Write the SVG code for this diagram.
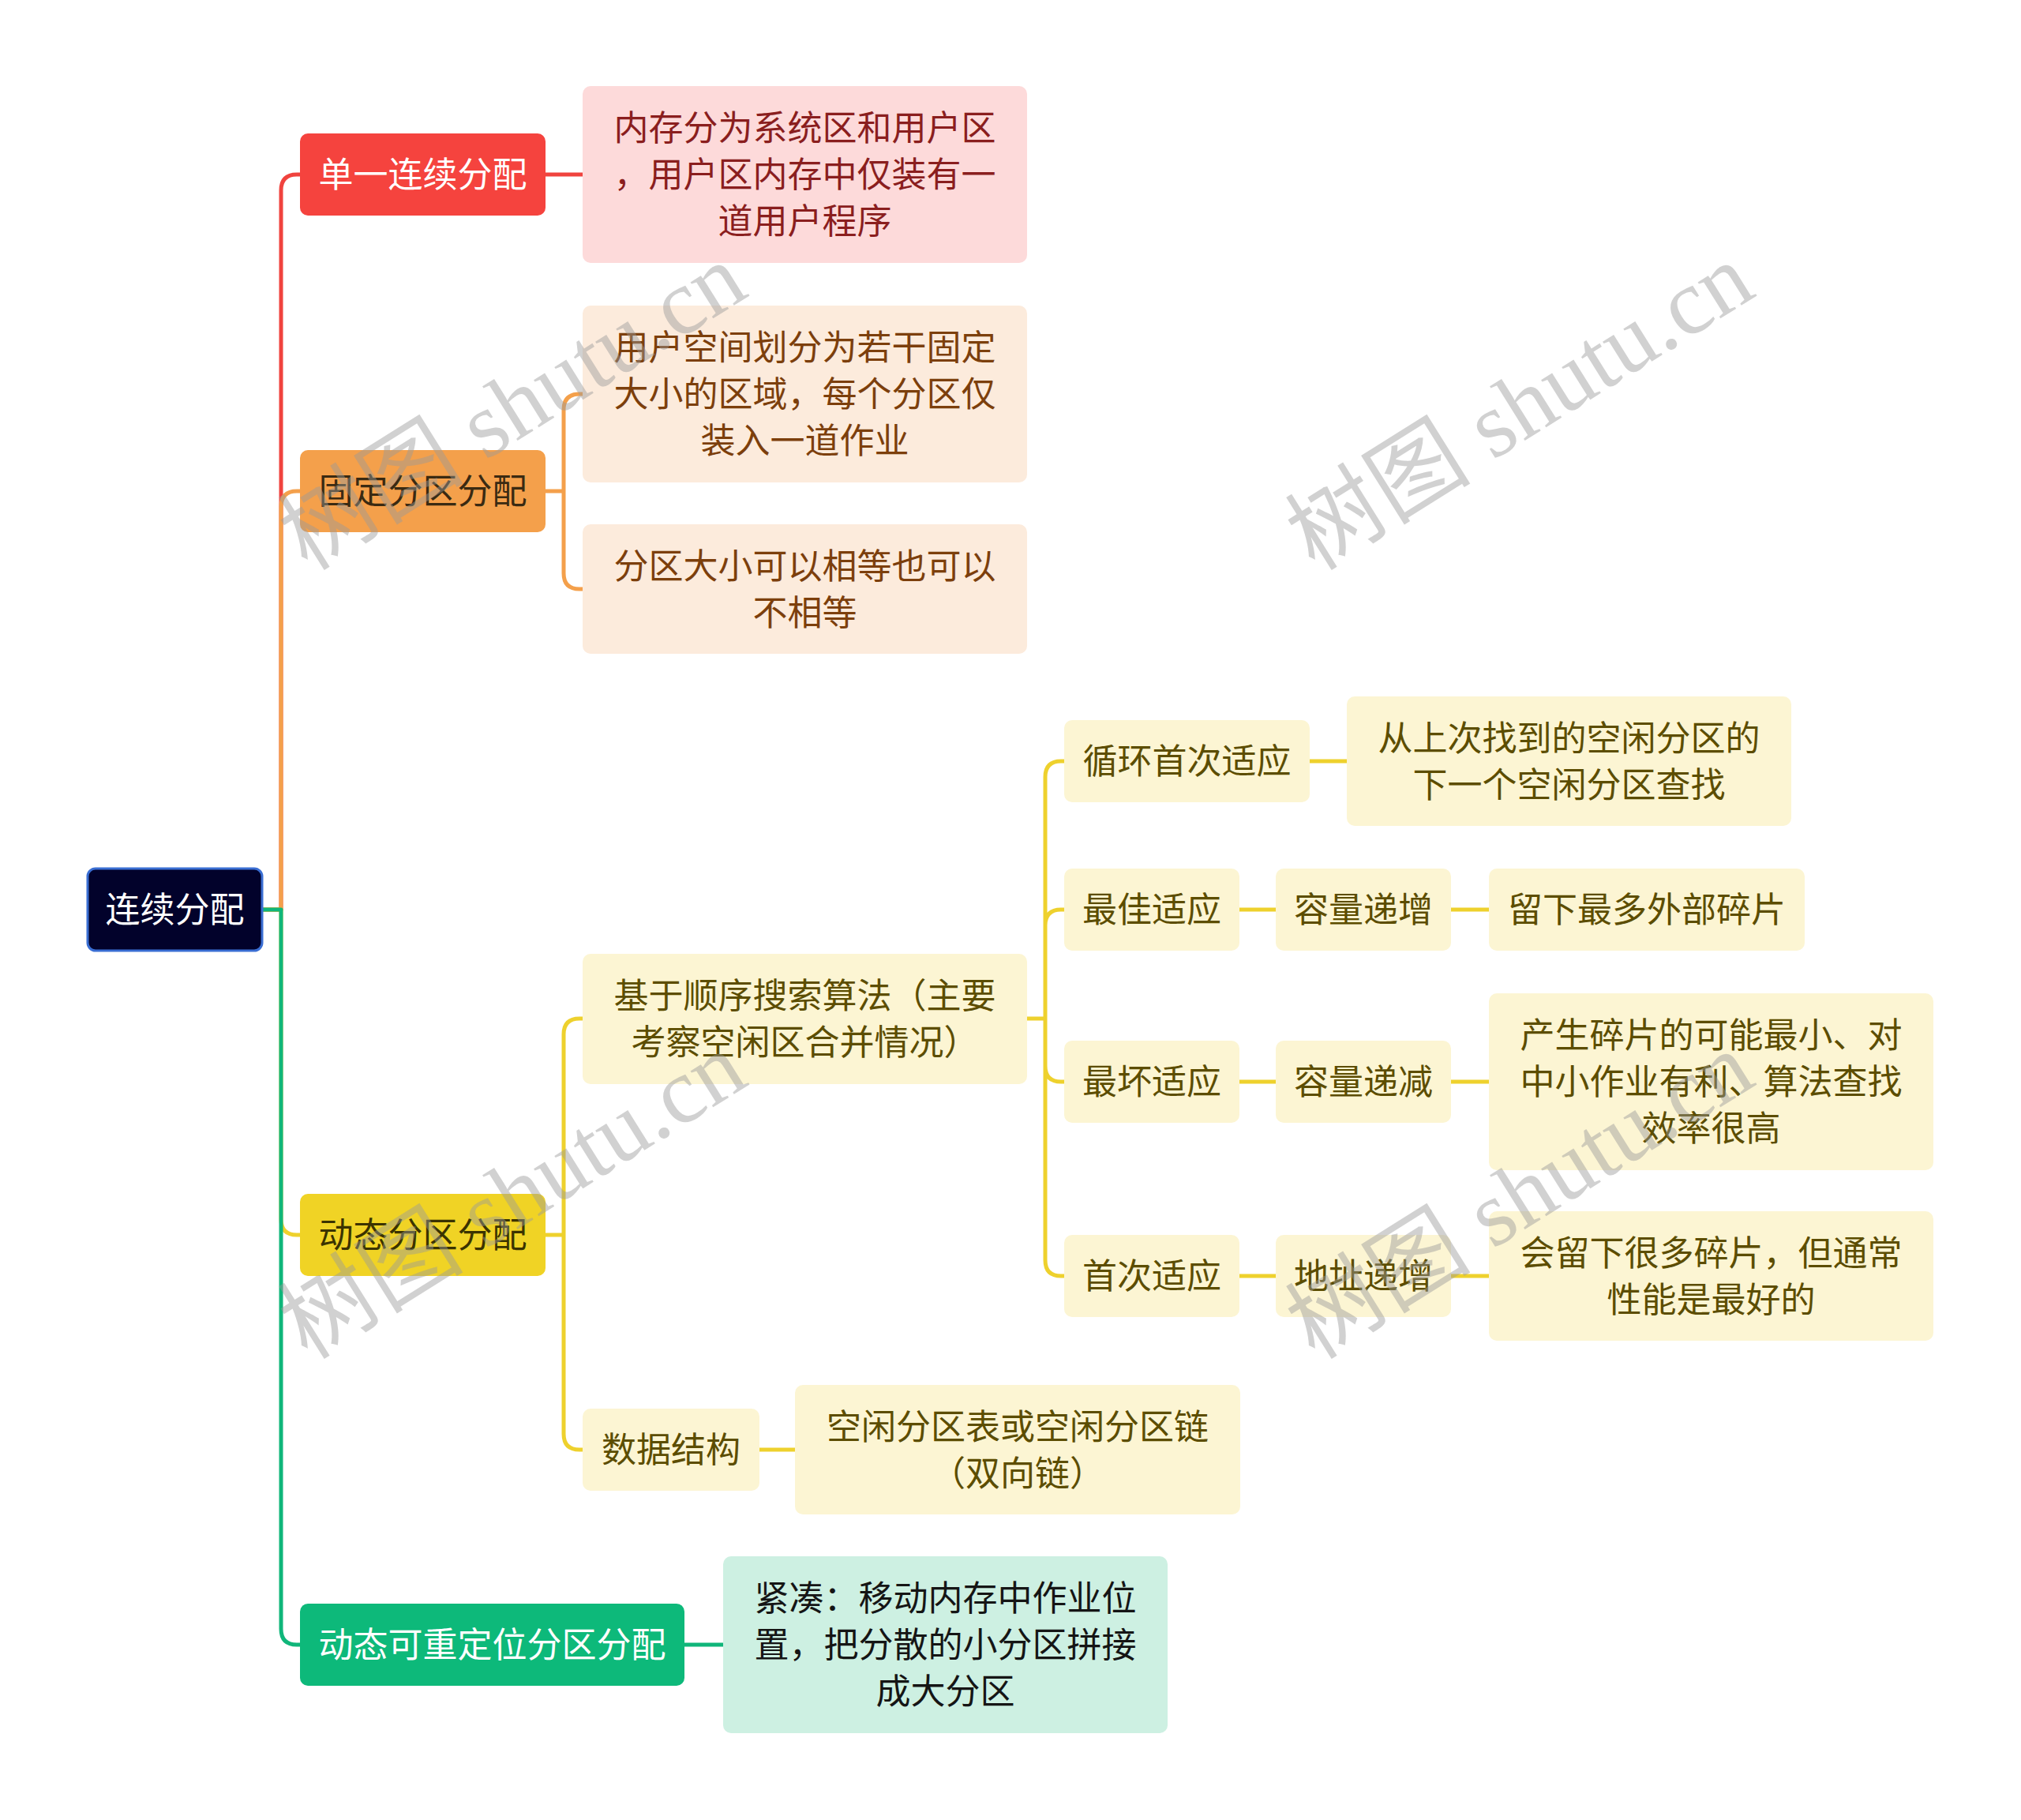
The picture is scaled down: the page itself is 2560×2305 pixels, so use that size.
<svg xmlns="http://www.w3.org/2000/svg" width="2560" height="2305" viewBox="0 0 2560 2305">
<style>
text{font-family:'Noto Sans CJK SC','Noto Sans',sans-serif;font-size:44px;text-anchor:middle}
.lnk{fill:none;stroke-width:5;stroke-linecap:round;stroke-linejoin:round}
.r{stroke:#F0433E}.o{stroke:#F4A04B}.y{stroke:#EED12D}.g{stroke:#10B67A}
.wm{font-family:'Liberation Serif','Noto Sans CJK SC',serif;font-size:118px;fill:#9a9a9a;fill-opacity:0.45}
.t1w{fill:#ffffff}
.tpink{fill:#8A1E1E}.tpeach{fill:#7C3F0C}.tcream{fill:#5C4D00}.tmint{fill:#151515}
</style>
<rect width="2560" height="2305" fill="#ffffff"/>
<g id="connectors">
<path class="lnk r" d="M332 1152 H356 V241 Q356 221 376 221 H380"/>
<path class="lnk o" d="M332 1152 H356 V642 Q356 622 376 622 H380"/>
<path class="lnk y" d="M332 1152 H356 V1544 Q356 1564 376 1564 H380"/>
<path class="lnk g" d="M332 1152 H356 V2063 Q356 2083 376 2083 H380"/>
<path class="lnk r" d="M691 221 H738"/>
<path class="lnk o" d="M691 622 H714 V519 Q714 499 734 499 H738 M714 622 V726 Q714 746 734 746 H738"/>
<path class="lnk y" d="M691 1564 H714 V1310 Q714 1290 734 1290 H738 M714 1564 V1816 Q714 1836 734 1836 H738"/>
<path class="lnk g" d="M867 2083 H916"/>
<path class="lnk y" d="M962 1836 H1007"/>
<path class="lnk y" d="M1301 1290 H1324 V984 Q1324 964 1344 964 H1348 M1324 1290 V1172 Q1324 1152 1344 1152 H1348 M1324 1290 V1350 Q1324 1370 1344 1370 H1348 M1324 1290 V1596 Q1324 1616 1344 1616 H1348"/>
<path class="lnk y" d="M1659 964 H1706 M1570 1152 H1616 M1838 1152 H1886 M1570 1370 H1616 M1838 1370 H1886 M1570 1616 H1616 M1838 1616 H1886"/>
</g>
<g id="root">
<rect x="111" y="1100" width="221" height="104" rx="10" fill="#02022B" stroke="#3A6ED3" stroke-width="3"/>
<text class="t1w" x="221.5" y="1168">连续分配</text>
</g>
<g id="n-single">
<rect x="380" y="169" width="311" height="104" rx="10" fill="#F5433E"/>
<text class="t1w" x="535.5" y="237">单一连续分配</text>
</g>
<g id="n-single-desc">
<rect x="738" y="109" width="563" height="224" rx="10" fill="#FDDADA"/>
<text class="tpink" x="1019.5" y="178">内存分为系统区和用户区</text>
<text class="tpink" x="1019.5" y="237">，用户区内存中仅装有一</text>
<text class="tpink" x="1019.5" y="296">道用户程序</text>
</g>
<g id="n-fixed">
<rect x="380" y="570" width="311" height="104" rx="10" fill="#F4A04B"/>
<text fill="#3A2A12" x="535.5" y="638">固定分区分配</text>
</g>
<g id="n-fixed-1">
<rect x="738" y="387" width="563" height="224" rx="10" fill="#FCEBDC"/>
<text class="tpeach" x="1019.5" y="456">用户空间划分为若干固定</text>
<text class="tpeach" x="1019.5" y="515">大小的区域，每个分区仅</text>
<text class="tpeach" x="1019.5" y="574">装入一道作业</text>
</g>
<g id="n-fixed-2">
<rect x="738" y="664" width="563" height="164" rx="10" fill="#FCEBDC"/>
<text class="tpeach" x="1019.5" y="733">分区大小可以相等也可以</text>
<text class="tpeach" x="1019.5" y="792">不相等</text>
</g>
<g id="n-dynamic">
<rect x="380" y="1512" width="311" height="104" rx="10" fill="#F0D325"/>
<text fill="#3B3300" x="535.5" y="1580">动态分区分配</text>
</g>
<g id="n-seq">
<rect x="738" y="1208" width="563" height="165" rx="10" fill="#FCF5D3"/>
<text class="tcream" x="1019.5" y="1277">基于顺序搜索算法（主要</text>
<text class="tcream" x="1019.5" y="1336">考察空闲区合并情况）</text>
</g>
<g id="n-next-fit">
<rect x="1348" y="912" width="311" height="104" rx="10" fill="#FCF5D3"/>
<text class="tcream" x="1503.5" y="980">循环首次适应</text>
</g>
<g id="n-next-fit-desc">
<rect x="1706" y="882" width="563" height="164" rx="10" fill="#FCF5D3"/>
<text class="tcream" x="1987.5" y="951">从上次找到的空闲分区的</text>
<text class="tcream" x="1987.5" y="1010">下一个空闲分区查找</text>
</g>
<g id="n-best">
<rect x="1348" y="1100" width="222" height="104" rx="10" fill="#FCF5D3"/>
<text class="tcream" x="1459" y="1168">最佳适应</text>
</g>
<g id="n-best-1">
<rect x="1616" y="1100" width="222" height="104" rx="10" fill="#FCF5D3"/>
<text class="tcream" x="1727" y="1168">容量递增</text>
</g>
<g id="n-best-2">
<rect x="1886" y="1100" width="400" height="104" rx="10" fill="#FCF5D3"/>
<text class="tcream" x="2086" y="1168">留下最多外部碎片</text>
</g>
<g id="n-worst">
<rect x="1348" y="1318" width="222" height="104" rx="10" fill="#FCF5D3"/>
<text class="tcream" x="1459" y="1386">最坏适应</text>
</g>
<g id="n-worst-1">
<rect x="1616" y="1318" width="222" height="104" rx="10" fill="#FCF5D3"/>
<text class="tcream" x="1727" y="1386">容量递减</text>
</g>
<g id="n-worst-2">
<rect x="1886" y="1258" width="563" height="224" rx="10" fill="#FCF5D3"/>
<text class="tcream" x="2167.5" y="1327">产生碎片的可能最小、对</text>
<text class="tcream" x="2167.5" y="1386">中小作业有利、算法查找</text>
<text class="tcream" x="2167.5" y="1445">效率很高</text>
</g>
<g id="n-first">
<rect x="1348" y="1564" width="222" height="104" rx="10" fill="#FCF5D3"/>
<text class="tcream" x="1459" y="1632">首次适应</text>
</g>
<g id="n-first-1">
<rect x="1616" y="1564" width="222" height="104" rx="10" fill="#FCF5D3"/>
<text class="tcream" x="1727" y="1632">地址递增</text>
</g>
<g id="n-first-2">
<rect x="1886" y="1534" width="563" height="164" rx="10" fill="#FCF5D3"/>
<text class="tcream" x="2167.5" y="1603">会留下很多碎片，但通常</text>
<text class="tcream" x="2167.5" y="1662">性能是最好的</text>
</g>
<g id="n-ds">
<rect x="738" y="1784" width="224" height="104" rx="10" fill="#FCF5D3"/>
<text class="tcream" x="850" y="1852">数据结构</text>
</g>
<g id="n-ds-desc">
<rect x="1007" y="1754" width="564" height="164" rx="10" fill="#FCF5D3"/>
<text class="tcream" x="1289" y="1823">空闲分区表或空闲分区链</text>
<text class="tcream" x="1289" y="1882">（双向链）</text>
</g>
<g id="n-reloc">
<rect x="380" y="2031" width="487" height="104" rx="10" fill="#0DB97A"/>
<text class="t1w" x="623.5" y="2099">动态可重定位分区分配</text>
</g>
<g id="n-reloc-desc">
<rect x="916" y="1971" width="563" height="224" rx="10" fill="#CDF0E2"/>
<text class="tmint" x="1197.5" y="2040">紧凑：移动内存中作业位</text>
<text class="tmint" x="1197.5" y="2099">置，把分散的小分区拼接</text>
<text class="tmint" x="1197.5" y="2158">成大分区</text>
</g>
<g id="watermarks">
<text class="wm" transform="translate(649 515) rotate(-32)" y="40">树图 shutu.cn</text>
<text class="wm" transform="translate(649 1514) rotate(-32)" y="40">树图 shutu.cn</text>
<text class="wm" transform="translate(1925 515) rotate(-32)" y="40">树图 shutu.cn</text>
<text class="wm" transform="translate(1925 1514) rotate(-32)" y="40">树图 shutu.cn</text>
</g>
</svg>
